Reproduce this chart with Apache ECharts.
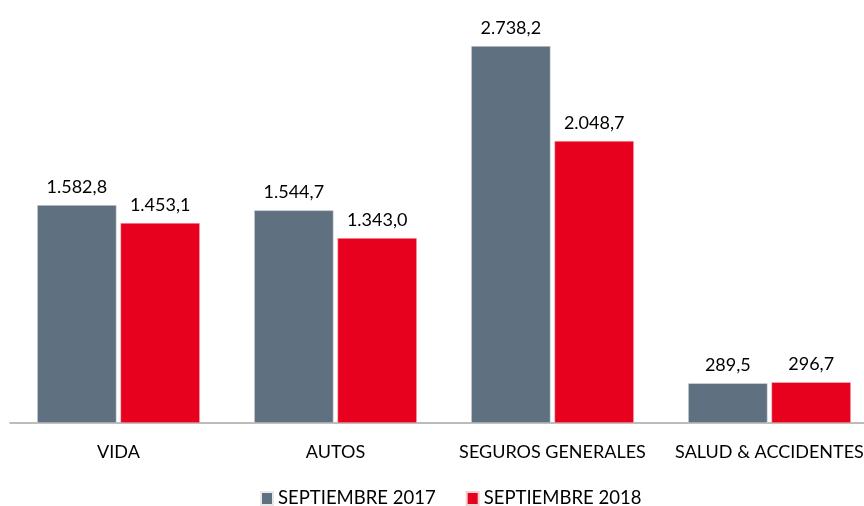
<!DOCTYPE html>
<html>
<head>
<meta charset="utf-8">
<script src="https://cdn.jsdelivr.net/npm/echarts@6/dist/echarts.min.js"></script>
<style>html,body{margin:0;padding:0;background:#fff;overflow:hidden;width:864px;height:506px;}#c{width:878px;height:506px;}</style>
</head>
<body>
<div id="c"></div>
<script>
const categories = ['VIDA', 'AUTOS', 'SEGUROS GENERALES', 'SALUD & ACCIDENTES'];
const seriesNames = ['SEPTIEMBRE 2017', 'SEPTIEMBRE 2018'];
const values2017 = [1582.8, 1544.7, 2738.2, 289.5];
const values2018 = [1453.1, 1343.0, 2048.7, 296.7];

function fmt(v) {
  const parts = v.toFixed(1).split('.');
  const intPart = parts[0].replace(/\B(?=(\d{3})+(?!\d))/g, '.');
  return intPart + ',' + parts[1];
}

const FONT = 'Lato';
const chart = echarts.init(document.getElementById('c'));
const labelCfg = {
  show: true, position: 'top', distance: 9,
  color: '#000', fontFamily: FONT, fontSize: 18,
  formatter: p => fmt(p.value)
};
chart.setOption({
  animation: false,
  grid: { left: 10, top: 10, right: 0, bottom: 83, containLabel: false },
  legend: {
    top: 484, left: 255, itemWidth: 12, itemHeight: 13, itemGap: 30,
    icon: 'rect',
    textStyle: { fontFamily: FONT, fontSize: 18.5, color: '#000' },
    data: seriesNames
  },
  xAxis: {
    type: 'category', data: categories,
    axisLine: { lineStyle: { color: '#a6a6a6', width: 1.5 } },
    axisTick: { show: false },
    axisLabel: { margin: 20, color: '#000', fontFamily: FONT, fontSize: 18, interval: 0 }
  },
  yAxis: { type: 'value', min: 0, max: 3000, show: false, splitLine: { show: false } },
  series: [
    { name: seriesNames[0], type: 'bar', data: values2017, barGap: '5%', barCategoryGap: '25%',
      itemStyle: { color: '#5f7180', borderColor: '#e8e8e8', borderWidth: 0.5 }, label: labelCfg },
    { name: seriesNames[1], type: 'bar', data: values2018, barGap: '5%', barCategoryGap: '25%',
      itemStyle: { color: '#e8001f', borderColor: '#f0d0d0', borderWidth: 0.5 }, label: labelCfg }
  ]
});
</script>
</body>
</html>
